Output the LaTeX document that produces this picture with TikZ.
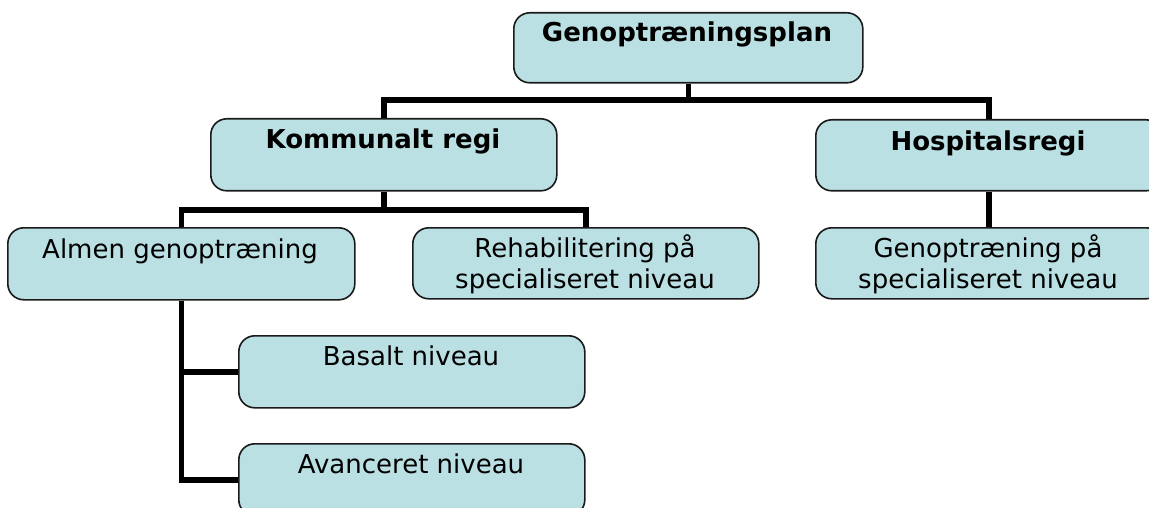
\documentclass[tikz,border=0pt]{standalone}
\usepackage{fontspec}
\setmainfont{DejaVu Sans}
\definecolor{boxfill}{HTML}{BAE0E3}
\definecolor{boxline}{HTML}{1A1A1A}
\begin{document}
\begin{tikzpicture}[x=1pt,y=-1pt,
  box/.style={draw=boxline, line width=1.6pt, fill=boxfill, rounded corners=16pt, inner sep=0pt, anchor=north west},
  conn/.style={line width=5.5pt, draw=black},
  txt/.style={inner sep=0pt, anchor=base, font=\fontsize{26}{30}\selectfont},
  btxt/.style={inner sep=0pt, anchor=base, font=\fontsize{26}{30}\selectfont\bfseries}]
\useasboundingbox (0,0) rectangle (1149,508);
\clip (0,0) rectangle (1149,508);
\coordinate (j1) at (687,100);
\coordinate (j2) at (383,210);
\node[box, minimum width=349pt, minimum height=70pt] (top) at (513,12) {};
\node[box, minimum width=346pt, minimum height=72pt] (kom) at (210,118) {};
\node[box, minimum width=346pt, minimum height=71pt] (hos) at (815,119) {};
\node[box, minimum width=347pt, minimum height=72pt] (alm) at (7,227) {};
\node[box, minimum width=346pt, minimum height=71pt] (reh) at (412,227) {};
\node[box, minimum width=346pt, minimum height=71pt] (gen) at (815,227) {};
\node[box, minimum width=346pt, minimum height=72pt] (bas) at (238,335) {};
\node[box, minimum width=346pt, minimum height=72pt] (ava) at (238,443) {};
% connectors
\draw[conn] (top.south) -- (top.south |- j1);
\draw[conn] (kom.north) -- (kom.north |- j1) -- (hos.north |- j1) -- (hos.north);
\draw[conn] (kom.south) -- (kom.south |- j2);
\draw[conn] (alm.north) -- (alm.north |- j2) -- (reh.north |- j2) -- (reh.north);
\draw[conn] (hos.south) -- (gen.north);
\draw[conn] (alm.south) -- (alm.south |- ava.west) -- (ava.west);
\draw[conn] (alm.south |- bas.west) -- (bas.west);
% texts
\node[btxt] (ttop) at (687,42) {Genoptræningsplan};
\node[btxt] (tkom) at (383,149) {Kommunalt regi};
\node[btxt] (thos) at (988,150) {Hospitalsregi};
\node[txt] (talm) at (180,258) {Almen genoptræning};
\node[txt] (treh1) at (585,257) {Rehabilitering på};
\node[txt] (treh2) at (585,288) {specialiseret niveau};
\node[txt] (tgen1) at (988,257) {Genoptræning på};
\node[txt] (tgen2) at (988,288) {specialiseret niveau};
\node[txt] (tbas) at (411,365) {Basalt niveau};
\node[txt] (tava) at (411,473) {Avanceret niveau};
\end{tikzpicture}
\end{document}
